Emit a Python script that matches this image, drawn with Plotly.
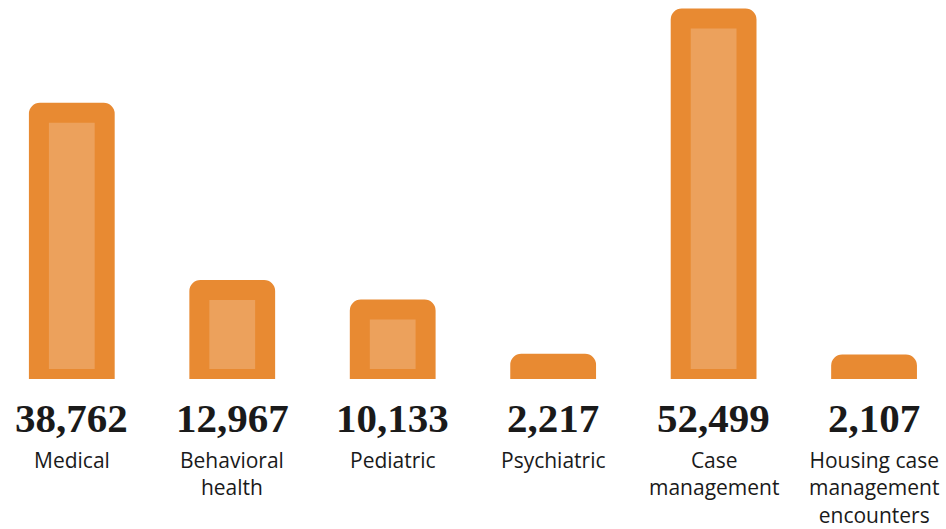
import plotly.graph_objects as go

categories = ["Medical", "Behavioral<br>health", "Pediatric", "Psychiatric",
              "Case<br>management", "Housing case<br>management<br>encounters"]
values = [38762, 12967, 10133, 2217, 52499, 2107]

DARK = "#E88A32"
LIGHT = "#ECA15C"

x = list(range(len(categories)))

fig = go.Figure()
fig.add_trace(go.Bar(
    x=x, y=values, width=0.41,
    marker=dict(color=LIGHT, line=dict(color=DARK, width=20), cornerradius=1),
    hoverinfo="skip",
))

annotations = []
for xi, v, c in zip(x, values, categories):
    annotations.append(dict(
        x=xi, y=0, xref="x", yref="paper", text=f"<b>{v:,}</b>",
        showarrow=False, yanchor="middle", xanchor="center", yshift=-39,
        font=dict(family="Liberation Serif", size=41, color="#1a1a1a"),
    ))
    annotations.append(dict(
        x=xi, y=0, xref="x", yref="paper", text=c,
        showarrow=False, yanchor="top", xanchor="center", yshift=-65,
        font=dict(family="Open Sans", size=21, color="#1a1a1a"),
    ))

fig.update_layout(
    width=946, height=529,
    margin=dict(l=0, r=0, t=0, b=150),
    paper_bgcolor="white", plot_bgcolor="white",
    showlegend=False,
    xaxis=dict(range=[-0.4475, 5.4484], visible=False, fixedrange=True),
    yaxis=dict(range=[0, 55200], visible=False, fixedrange=True),
    annotations=annotations,
)

fig.write_html("out.html", config={"displayModeBar": False})
with open("out.html", encoding="utf-8") as f:
    html = f.read()
html = html.replace("<body>", '<body style="margin:0;padding:0;overflow:hidden">', 1)
with open("out.html", "w", encoding="utf-8") as f:
    f.write(html)
